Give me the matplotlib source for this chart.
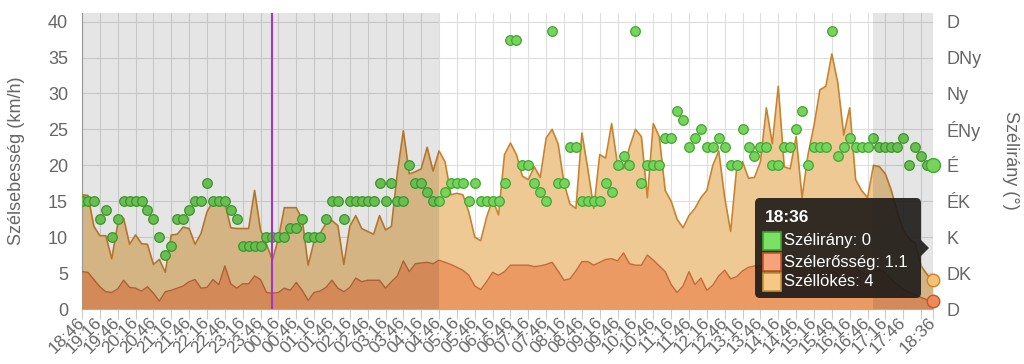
import numpy as np
import pandas as pd
import matplotlib
matplotlib.use("Agg")
import matplotlib.pyplot as plt
from matplotlib.patches import FancyBboxPatch, Polygon, Rectangle
from matplotlib.transforms import IdentityTransform

plt.rcParams['font.family'] = ['Liberation Sans', 'DejaVu Sans']

# 10 minute readings, 18:46 -> 18:36 next day
times = pd.date_range("2024-01-01 18:46", periods=144, freq="10min")
hhmm = list(times.strftime("%H:%M"))

# Szélerősség (km/h)
speed = [5.2, 5.1, 4.1, 3.1, 2.4, 2.3, 2.8, 4.0, 3.0, 2.9,
         2.5, 3.1, 2.2, 1.1, 2.4, 2.6, 2.9, 3.2, 3.8, 4.1,
         2.9, 3.0, 4.1, 3.4, 6.0, 3.5, 2.9, 3.5, 3.5, 4.6,
         4.1, 2.3, 2.2, 2.3, 2.9, 2.6, 3.7, 2.6, 1.2, 2.3,
         2.5, 3.0, 4.0, 2.9, 2.4, 3.0, 4.3, 3.8, 4.0, 4.0,
         4.0, 2.9, 3.8, 4.6, 6.7, 5.2, 6.3, 6.4, 6.5, 6.3,
         6.8, 6.5, 6.2, 5.8, 5.4, 4.7, 3.2, 2.7, 3.8, 5.1,
         4.7, 5.2, 6.1, 6.1, 6.1, 6.1, 5.9, 6.0, 6.2, 6.5,
         5.3, 4.0, 4.2, 5.3, 6.6, 6.6, 6.1, 6.5, 6.9, 7.0,
         6.7, 7.8, 6.3, 6.1, 6.1, 7.5, 6.8, 6.0, 5.2, 3.4,
         2.3, 3.2, 5.2, 3.4, 4.3, 2.6, 3.3, 4.6, 5.4, 4.2,
         4.5, 5.3, 5.8, 6.0, 6.0, 6.1, 6.2, 6.3, 6.4, 6.5,
         6.3, 6.4, 6.0, 5.9, 6.3, 6.5, 6.0, 5.5, 5.7, 6.2,
         5.8, 5.0, 4.8, 5.2, 5.5, 5.0, 4.2, 3.4, 2.8, 2.3,
         2.0, 1.6, 1.3, 1.1]

# Széllökés (km/h)
gust = [15.9, 15.8, 11.5, 10.2, 10.2, 7.0, 11.8, 12.6, 9.0, 10.3,
        9.1, 9.0, 6.2, 6.9, 5.1, 10.3, 10.4, 11.4, 11.2, 9.0,
        10.5, 13.5, 15.0, 15.0, 14.8, 11.3, 11.2, 11.2, 11.2, 16.5,
        11.0, 9.0, 6.8, 9.8, 14.1, 14.1, 14.1, 12.5, 6.1, 9.4,
        10.5, 11.9, 12.3, 11.6, 6.2, 11.5, 13.0, 11.2, 10.8, 10.4,
        13.0, 11.0, 11.5, 19.0, 24.8, 18.8, 19.1, 19.5, 22.5, 19.2,
        22.0, 20.5, 15.9, 16.1, 15.9, 13.5, 10.0, 9.5, 12.8, 15.2,
        13.1, 21.5, 23.1, 21.5, 18.5, 18.0, 19.8, 18.3, 23.8, 25.0,
        23.0, 17.5, 14.6, 14.0, 24.5, 19.5, 14.0, 21.5, 21.0, 25.8,
        20.0, 19.5, 22.5, 25.0, 24.0, 15.5, 25.8, 24.0, 16.5, 15.0,
        12.5, 11.3, 13.0, 14.0, 15.5, 16.5, 20.0, 22.0, 15.5, 10.8,
        19.5, 20.5, 18.2, 18.3, 20.5, 28.0, 23.0, 31.0, 19.8, 19.5,
        24.0, 15.5, 21.5, 25.5, 30.5, 31.0, 35.5, 31.5, 24.2, 28.0,
        18.0, 16.5, 15.5, 20.0, 19.8, 18.8, 16.5, 13.5, 11.0, 9.8,
        9.2, 6.0, 4.8, 4.0]

# Szélirány (degrees, 0 = É)
direction = [45, 45, 45, 67.5, 56.25, 90, 67.5, 45, 45, 45,
             45, 56.25, 67.5, 90, 112.5, 101.25, 67.5, 67.5, 56.25, 45,
             45, 22.5, 45, 45, 45, 56.25, 67.5, 101.25, 101.25, 101.25,
             101.25, 90, 90, 90, 90, 78.75, 78.75, 67.5, 90, 90,
             90, 67.5, 45, 45, 67.5, 45, 45, 45, 45, 45,
             22.5, 45, 22.5, 45, 45, 0, 22.5, 22.5, 33.75, 45,
             45, 33.75, 22.5, 22.5, 22.5, 45, 22.5, 45, 45, 45,
             45, 22.5, 202.5, 202.5, 0, 0, 22.5, 33.75, 45, 191.25,
             22.5, 22.5, 337.5, 337.5, 45, 45, 45, 45, 22.5, 33.75,
             0, 348.75, 0, 191.25, 22.5, 0, 0, 0, 326.25, 326.25,
             292.5, 303.75, 337.5, 326.25, 315, 337.5, 337.5, 326.25, 337.5, 0,
             0, 315, 337.5, 348.75, 337.5, 337.5, 0, 0, 337.5, 337.5,
             315, 292.5, 0, 337.5, 337.5, 337.5, 191.25, 348.75, 337.5, 326.25,
             337.5, 337.5, 337.5, 326.25, 337.5, 337.5, 337.5, 337.5, 326.25, 0,
             337.5, 348.75, 0, 0]

dir_ticks = [180, 135, 90, 45, 0, -45, -90, -135, -180]
dir_labels = ["D", "DK", "K", "ÉK", "É", "ÉNy", "Ny", "DNy", "D"]

night_start = ["18:46", "16:56"]
night_end = ["04:46", "18:36"]
now_time = "00:06"

x = np.arange(len(times))
d = np.array(direction)
dir_signed = np.where(d > 180, d - 360, d)

fig = plt.figure(figsize=(10.24, 3.64), dpi=100)
ax = fig.add_axes([82/1024, 55/364, 851/1024, 296/364])
ax.set_xlim(0, len(x) - 1)
ax.set_ylim(0, 41.2)

ax.fill_between(x, 0, gust, color='#eec993', lw=0, zorder=2)
ax.plot(x, gust, color='#c8832f', lw=1.2, zorder=3)
ax.fill_between(x, 0, speed, color='#eb9a63', lw=0, zorder=4)
ax.plot(x, speed, color='#c46a36', lw=1.0, zorder=4)

# ticks every 30 min, 18:16 label left out (overlaps 18:36)
tick_pos = [i for i, t in enumerate(hhmm) if t.endswith("16") or t.endswith("46")] + [len(x) - 1]
tick_lbl = [hhmm[i] for i in tick_pos]
tick_lbl[-2] = ""
ax.set_xticks(tick_pos)
ax.set_xticklabels(tick_lbl)
ax.set_yticks(range(0, 41, 5))
ax.tick_params(axis='x', length=7, color='#cccccc', pad=1, labelsize=12.5, labelcolor='#666666')
ax.tick_params(axis='y', length=0, pad=10, labelsize=13, labelcolor='#666666')
plt.setp(ax.get_xticklabels(), rotation=45, ha='right', va='center', rotation_mode='anchor')
ax.grid(True, color='#dedede', lw=0.8)
ax.set_axisbelow(True)
for s in ['top', 'right']:
    ax.spines[s].set_visible(False)
ax.spines['left'].set_color('#a8a8a8')
ax.spines['bottom'].set_color('#b0b0b0')

ax2 = ax.twinx()
ax2.set_ylim(180, -190.8)
ax2.scatter(x, dir_signed, s=48, c='#74d45b', edgecolors='#44a532', linewidths=0.9, zorder=3)
ax2.set_yticks(dir_ticks)
ax2.set_yticklabels(dir_labels)
ax2.tick_params(axis='y', length=0, pad=10, labelsize=13, labelcolor='#666666')
for s in ax2.spines.values():
    s.set_visible(False)

for a, b in zip(night_start, night_end):
    ax2.axvspan(hhmm.index(a), hhmm.index(b), color='black', alpha=0.1, lw=0, zorder=4)
ax2.axvline(hhmm.index(now_time), color='#a336c4', lw=1.5, zorder=5)

# hover markers at the last reading
ax2.plot(x[-1], dir_signed[-1], 'o', ms=10, mfc='#74d45b', mec='#44a532', mew=1, zorder=6, clip_on=False)
ax2.plot(x[-1], gust[-1], 'o', ms=9, mfc='#f4c272', mec='#c8832f', mew=1, zorder=6, clip_on=False,
         transform=ax.transData)
ax2.plot(x[-1], speed[-1], 'o', ms=9, mfc='#ee8a5a', mec='#c4552c', mew=1, zorder=6, clip_on=False,
         transform=ax.transData)

fig.text(17/1024, 1 - 161/364, "Szélsebesség (km/h)", rotation=90, ha='center', va='center',
         fontsize=13, color='#666666')
fig.text(1010/1024, 1 - 160/364, "Szélirány (°)", rotation=270, ha='center', va='center',
         fontsize=13, color='#666666')

# tooltip
H = 364
px = IdentityTransform()
box = FancyBboxPatch((755, H - 298), 166, 100, boxstyle="round,pad=0,rounding_size=5",
                     fc='#1c1a18', ec='none', alpha=0.9, transform=px)
fig.add_artist(box)
fig.add_artist(Polygon([(921, H - 240), (929, H - 248), (921, H - 256)], closed=True,
                       fc='#1c1a18', ec='none', alpha=0.9, transform=px))
fig.text(765, H - 217, times[-1].strftime("%H:%M"), transform=px, color='white',
         fontsize=12.5, fontweight='bold', va='center', ha='left')
rows = [("Szélirány: %g" % direction[-1], '#7be064', '#3ea52a', 241),
        ("Szélerősség: %g" % speed[-1], '#f4a37a', '#c3562a', 262),
        ("Széllökés: %g" % gust[-1], '#f5c983', '#c88f3d', 282)]
for txt, fc, ec, yy in rows:
    fig.add_artist(Rectangle((763, H - yy - 9), 18, 18, fc=fc, ec=ec, lw=1.2, transform=px))
    fig.text(784, H - yy, txt, transform=px, color='white', fontsize=12, va='center', ha='left')

fig.savefig("out.png", dpi=100)
